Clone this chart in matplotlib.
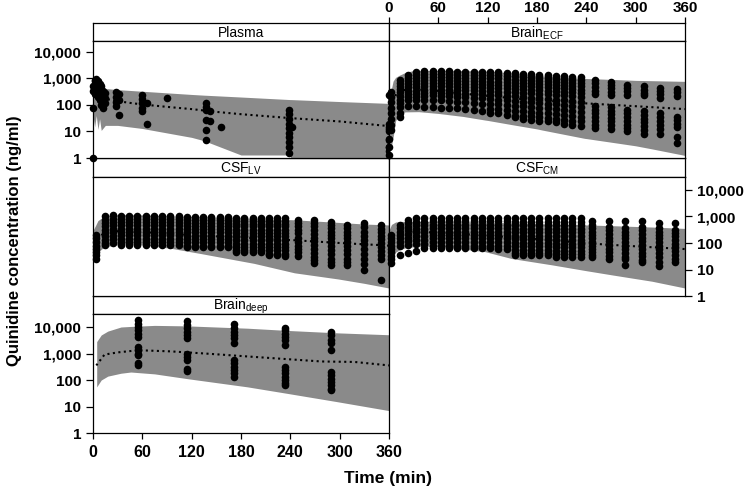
import numpy as np
import matplotlib
matplotlib.use("Agg")
import matplotlib.pyplot as plt
from matplotlib.ticker import FixedLocator, FuncFormatter, LogLocator, NullFormatter, NullLocator

plt.rcParams['font.family'] = ['Liberation Sans', 'DejaVu Sans']

#%% Plasma
plasma_band_t = [0, 2, 4, 6, 8, 10, 15, 30, 60, 120, 135, 180, 240, 241, 300, 360]
plasma_lo = [40, 15, 40, 12, 30, 11, 17, 17, 13, 6, 4.5, 1.3, 1.3, 0.5, 0.5, 0.5]
plasma_hi = [500, 480, 470, 460, 450, 440, 420, 380, 330, 250, 235, 200, 160, 160, 135, 115]
plasma_med_t = [0, 5, 10, 20, 30, 45, 60, 90, 120, 150, 180, 240, 300, 360]
plasma_med = [300, 230, 190, 160, 140, 120, 105, 85, 70, 55, 45, 32, 24, 16]
plasma_obs_t = [0, 2, 4, 6, 8, 10, 12, 14, 28, 32, 60, 66, 90, 138, 142, 156, 238, 242, 360]
plasma_obs_c = [
    [1, 80, 350, 500],
    [250, 400, 600, 800, 900],
    [300, 450, 700, 950],
    [200, 350, 550, 800],
    [150, 250, 400, 600],
    [100, 180, 300, 500],
    [75, 130, 200, 350],
    [120, 180, 280],
    [300, 200, 130, 90],
    [250, 160, 42],
    [240, 165, 115, 75, 58],
    [115, 20],
    [180],
    [115, 87, 65, 27, 11.4, 4.8],
    [57, 24],
    [15],
    [65, 45, 30, 20, 13, 9, 6, 4, 2.5, 1.6],
    [15],
    [240, 15, 10, 4.8, 2.5, 1.8],
]

#%% Brain ECF
ecf_hi_t = [0, 2, 5, 8, 12, 20, 30, 60, 90, 120, 150, 180, 240, 300, 360]
ecf_hi = [100, 300, 800, 1100, 1300, 1700, 2000, 2000, 2000, 1900, 1600, 1300, 1000, 850, 780]
ecf_lo_t = [0, 2, 5, 8, 12, 20, 36, 60, 90, 117, 150, 186, 238, 279, 320, 360]
ecf_lo = [1, 2, 6, 25, 48, 55, 56, 48, 37, 27, 18, 11.4, 5.5, 3.6, 2.2, 1.25]
ecf_med_t = [0, 5, 10, 20, 30, 60, 90, 120, 150, 180, 240, 300, 360]
ecf_med = [5, 150, 300, 380, 400, 340, 270, 220, 180, 150, 115, 90, 70]
ecf_obs_t = [0, 3, 13, 23, 33, 43, 53, 63, 73, 83, 93, 103, 113, 123, 133, 143, 153,
             163, 173, 183, 193, 203, 213, 223, 233, 250, 270, 290, 310, 330, 350]
ecf_obs_c = [
    [1.3, 2.5, 5, 12, 20],
    [11, 18, 30, 50, 80, 130, 200, 300],
    [36, 50, 85, 115, 160, 220, 300, 400, 520, 700, 900],
    [1300, 1000, 780, 600, 460, 350, 270, 200, 150, 95],
    [1700, 1300, 1000, 780, 600, 460, 350, 270, 200, 150, 90],
    [1900, 1450, 1100, 850, 650, 500, 380, 290, 220, 150, 85],
    [1950, 1500, 1150, 880, 680, 520, 400, 300, 230, 150, 85],
    [1900, 1450, 1100, 850, 650, 500, 380, 290, 220, 150, 80],
    [1900, 1450, 1100, 850, 650, 500, 380, 290, 210, 140, 80],
    [1800, 1400, 1050, 800, 620, 480, 360, 270, 200, 130, 75],
    [1800, 1400, 1050, 800, 620, 480, 360, 270, 200, 130, 70],
    [1800, 1400, 1050, 800, 620, 480, 360, 260, 190, 120, 65],
    [1750, 1350, 1000, 780, 600, 460, 350, 250, 180, 110, 60],
    [1700, 1300, 1000, 760, 580, 440, 330, 240, 170, 110, 70, 50],
    [1700, 1300, 1000, 750, 570, 430, 320, 230, 160, 110, 70, 48],
    [1600, 1250, 950, 720, 550, 420, 310, 220, 150, 100, 65, 42],
    [1550, 1200, 900, 700, 530, 400, 300, 210, 140, 95, 60, 40, 35],
    [1500, 1150, 880, 680, 520, 390, 290, 200, 130, 90, 60, 40, 30],
    [1450, 1100, 850, 650, 500, 380, 280, 190, 125, 85, 55, 38, 28],
    [1400, 1050, 820, 620, 480, 360, 270, 180, 120, 80, 52, 35, 25],
    [1300, 1000, 780, 600, 460, 350, 260, 170, 110, 75, 50, 33, 24],
    [1250, 950, 750, 580, 440, 330, 240, 160, 105, 70, 45, 30, 22],
    [1200, 920, 720, 560, 420, 320, 230, 150, 100, 65, 42, 28, 20],
    [1150, 900, 700, 540, 400, 300, 220, 140, 95, 60, 40, 26, 18],
    [1100, 850, 660, 500, 380, 280, 200, 130, 85, 55, 36, 24, 16],
    [850, 650, 480, 350, 250, 90, 65, 48, 35, 25, 18, 13],
    [750, 560, 420, 320, 240, 85, 62, 45, 33, 24, 17, 12],
    [580, 440, 330, 240, 65, 48, 35, 25, 18, 13, 10],
    [500, 380, 290, 230, 58, 42, 30, 22, 16, 11, 8],
    [430, 330, 250, 180, 48, 35, 25, 18, 12, 8],
    [400, 300, 220, 36, 27, 20, 15, 6.4, 3.6],
]

#%% CSF LV
lv_band_t = [0, 3, 6, 12, 18, 34, 60, 95, 131, 196, 245, 298, 330, 360]
lv_lo = [20, 30, 45, 65, 75, 90, 85, 63, 40, 17, 7.5, 4.4, 3, 2]
lv_hi = [300, 450, 700, 950, 1100, 1200, 1150, 1050, 980, 850, 750, 600, 520, 480]
lv_med_t = [0, 5, 15, 30, 60, 120, 180, 240, 300, 360]
lv_med = [60, 150, 250, 280, 260, 200, 160, 130, 100, 80]
lv_obs_t = [4, 14, 24, 34, 44, 54, 64, 74, 84, 94, 104, 114, 124, 134, 144, 154, 164,
            174, 184, 194, 204, 214, 224, 234, 249, 269, 289, 309, 330, 350]
lv_obs_c = [
    [200, 150, 110, 80, 60, 45, 35, 26],
    [1000, 750, 560, 420, 320, 240, 180, 130, 100, 84],
    [1100, 820, 620, 470, 350, 260, 190, 140, 100],
    [1000, 780, 600, 460, 350, 260, 200, 140, 110, 85],
    [1000, 780, 600, 460, 350, 260, 200, 140, 110, 85],
    [1000, 780, 600, 460, 350, 260, 200, 140, 110, 85],
    [1000, 780, 600, 460, 350, 260, 200, 140, 110, 85],
    [1000, 780, 600, 460, 350, 260, 200, 140, 110, 85],
    [1000, 780, 600, 460, 350, 260, 200, 140, 110, 85],
    [1000, 780, 600, 460, 350, 260, 200, 140, 110, 85],
    [1000, 780, 600, 460, 350, 260, 200, 140, 110, 85],
    [950, 740, 570, 440, 340, 250, 190, 140, 105, 80, 70],
    [950, 740, 570, 440, 340, 250, 190, 140, 105, 80, 70],
    [950, 740, 570, 440, 340, 250, 190, 140, 105, 80, 70],
    [950, 740, 570, 440, 340, 250, 190, 140, 105, 80, 70],
    [950, 740, 570, 440, 340, 250, 190, 140, 105, 80, 70],
    [950, 740, 570, 440, 340, 250, 190, 140, 105, 80, 70],
    [900, 700, 540, 420, 320, 240, 180, 130, 95, 70, 55, 45],
    [900, 700, 540, 420, 320, 240, 180, 130, 95, 70, 55, 45],
    [900, 700, 540, 420, 320, 240, 180, 130, 95, 70, 55, 45],
    [900, 700, 540, 420, 320, 240, 180, 130, 95, 70, 55, 45],
    [900, 700, 540, 420, 320, 240, 180, 130, 95, 70, 55, 40, 35],
    [900, 700, 540, 420, 320, 240, 180, 130, 95, 70, 55, 40, 35],
    [900, 700, 540, 420, 320, 240, 180, 130, 95, 70, 55, 40, 32],
    [740, 560, 420, 320, 240, 150, 110, 80, 60, 45, 33],
    [740, 560, 420, 300, 220, 160, 115, 85, 60, 42, 30, 22, 17],
    [640, 480, 360, 270, 200, 150, 110, 80, 55, 38, 26, 19, 15],
    [480, 360, 270, 200, 150, 110, 80, 55, 38, 26, 19, 15],
    [560, 400, 270, 180, 130, 90, 60, 40, 25, 16, 10],
    [480, 350, 260, 190, 140, 100, 70, 50, 35, 25, 4],
]

#%% CSF CM
cm_band_t = [0, 3, 8, 15, 25, 40, 60, 117, 149, 198, 240, 272, 320, 360]
cm_lo = [10, 20, 45, 60, 70, 75, 75, 47, 26, 15, 9, 6.2, 3.6, 2]
cm_hi = [300, 500, 620, 650, 650, 650, 650, 620, 580, 520, 480, 450, 400, 355]
cm_med_t = [0, 5, 15, 30, 60, 120, 180, 240, 300, 360]
cm_med = [30, 120, 220, 260, 250, 190, 140, 97, 75, 59]
cm_obs_t = [3, 13, 23, 33, 43, 53, 63, 73, 83, 93, 103, 113, 123, 133, 143, 153, 163,
            173, 183, 193, 203, 213, 223, 233, 247, 268, 287, 308, 328, 348]
cm_obs_c = [
    [200, 150, 110, 80, 60, 45, 33, 24, 17],
    [480, 360, 270, 200, 150, 110, 80, 35],
    [740, 550, 400, 300, 220, 160, 120, 85, 42],
    [850, 620, 460, 340, 250, 180, 130, 90, 48],
    [850, 620, 460, 340, 250, 180, 130, 90, 63],
    [880, 650, 480, 360, 270, 200, 150, 110, 80, 65],
    [880, 650, 480, 360, 270, 200, 150, 110, 80, 65],
    [880, 650, 480, 360, 270, 200, 150, 110, 80, 65],
    [880, 650, 480, 360, 270, 200, 150, 110, 80, 65],
    [880, 650, 480, 360, 270, 200, 150, 110, 80, 65],
    [880, 650, 480, 360, 270, 200, 150, 110, 80, 65],
    [880, 650, 480, 360, 270, 200, 150, 110, 80, 65],
    [880, 650, 480, 360, 270, 200, 150, 110, 80, 65],
    [880, 650, 480, 360, 270, 200, 150, 110, 80, 60],
    [880, 650, 480, 360, 270, 200, 150, 110, 80, 58],
    [870, 640, 470, 350, 260, 190, 140, 100, 75, 55, 42, 35],
    [870, 640, 470, 350, 260, 190, 140, 100, 75, 55, 42, 35],
    [870, 640, 470, 350, 260, 190, 140, 100, 75, 55, 42, 35],
    [870, 640, 470, 350, 260, 190, 140, 100, 75, 55, 42, 35],
    [870, 640, 470, 350, 260, 190, 140, 100, 75, 55, 42, 35],
    [850, 620, 460, 340, 250, 180, 130, 95, 70, 50, 38, 30],
    [850, 620, 460, 340, 250, 180, 130, 95, 70, 50, 38, 30],
    [850, 620, 460, 340, 250, 180, 130, 95, 70, 50, 38, 30],
    [850, 620, 460, 340, 250, 180, 130, 95, 70, 50, 38, 30],
    [700, 480, 360, 270, 200, 150, 110, 80, 60, 45, 34, 30],
    [700, 400, 300, 220, 160, 120, 85, 62, 45, 33, 25],
    [700, 360, 270, 200, 150, 110, 80, 58, 42, 30, 25, 15],
    [700, 400, 300, 220, 160, 115, 85, 60, 43, 31, 22, 19],
    [560, 360, 270, 200, 150, 110, 80, 58, 42, 30, 20, 13],
    [560, 320, 240, 180, 130, 95, 70, 50, 36, 26, 20],
]

#%% Brain deep
deep_band_t = [4.5, 10, 18, 34, 46, 75, 115, 188, 237, 298, 360]
deep_lo = [55, 100, 140, 180, 200, 170, 112, 55, 31, 15, 7]
deep_hi = [2800, 5000, 7000, 10000, 10500, 11500, 11000, 9000, 7400, 6000, 5100]
deep_med_t = [4, 14, 30, 55, 95, 136, 197, 278, 318, 360]
deep_med = [355, 910, 1100, 1330, 1200, 1000, 740, 500, 480, 355]
deep_obs_t = [55, 114, 172, 233, 289]
deep_obs_c = [
    [17800, 13400, 10000, 7500, 5600, 4200, 1800, 1300, 1000, 850, 420, 360],
    [16500, 12000, 8900, 6700, 5000, 3700, 1000, 750, 560, 270, 220],
    [12500, 9500, 6700, 5000, 3700, 2400, 560, 420, 320, 240, 180, 130],
    [9500, 7500, 5600, 4200, 3200, 2100, 320, 240, 180, 130, 100, 75, 65],
    [6700, 5000, 3200, 2400, 1300, 200, 150, 110, 85, 63, 47, 41],
]

time_ticks = [0, 60, 120, 180, 240, 300, 360]
conc_ticks = [1, 10, 100, 1000, 10000]

#%% figure
W, H = 750, 490
DEC = 26.5  # pixels per decade
fig = plt.figure(figsize=(7.5, 4.9), dpi=100)

def fr(x0, y0, x1, y1):
    return [x0 / W, 1 - y1 / H, (x1 - x0) / W, (y1 - y0) / H]

cols = [(93, 389), (389, 685)]
rows = [(23, 41, 158), (158, 177, 296), (296, 314, 433)]

grey = "#8a8a8a"

def header(col, row, label):
    x0, x1 = cols[col]
    y0, y1, _ = rows[row]
    hx = fig.add_axes(fr(x0, y0, x1, y1))
    hx.set_xlim(0, 360)
    hx.set_xticks([])
    hx.set_yticks([])
    for s in hx.spines.values():
        s.set_linewidth(0.9)
    hx.text(0.5, 0.45, label, ha="center", va="center", fontsize=10, transform=hx.transAxes)
    return hx

def panel(col, row, band_t, lo, hi, med_t, med, obs_t, obs_c, lo_t=None):
    x0, x1 = cols[col]
    _, y0, y1 = rows[row]
    ax = fig.add_axes(fr(x0, y0, x1, y1))
    ax.set_yscale("log")
    ax.set_xlim(0, 360)
    ax.set_ylim(1, 10 ** ((y1 - y0) / DEC))
    if lo_t is None:
        ax.fill_between(band_t, lo, hi, color=grey, lw=0, zorder=1)
    else:
        tt = np.union1d(band_t, lo_t)
        ax.fill_between(tt, np.interp(tt, lo_t, lo), np.interp(tt, band_t, hi),
                        color=grey, lw=0, zorder=1)
    ax.plot(med_t, med, color="k", ls=":", lw=1.5, zorder=2)
    for t, vals in zip(obs_t, obs_c):
        ax.scatter([t] * len(vals), vals, s=30, c="k", linewidths=0, zorder=3, clip_on=False)
    ax.set_xticks([])
    ax.yaxis.set_major_locator(NullLocator())
    ax.yaxis.set_minor_locator(NullLocator())
    for s in ax.spines.values():
        s.set_linewidth(0.9)
    return ax

def log_ticks(ax, side):
    ax.yaxis.set_major_locator(FixedLocator(conc_ticks))
    ax.yaxis.set_major_formatter(FuncFormatter(lambda v, p: "{:,.0f}".format(v)))
    ax.yaxis.set_minor_locator(LogLocator(base=10, subs=np.arange(2, 10)))
    ax.yaxis.set_minor_formatter(NullFormatter())
    if side == "right":
        ax.yaxis.tick_right()
    ax.tick_params(axis="y", which="major", direction="out", length=5, width=0.9, labelsize=11)
    ax.tick_params(axis="y", which="minor", direction="out", length=2.5, width=0.6)
    for lab in ax.get_yticklabels():
        lab.set_fontweight("bold")

header(0, 0, "Plasma")
hx = header(1, 0, r"Brain$_{\mathregular{ECF}}$")
hx.xaxis.tick_top()
hx.set_xticks(time_ticks)
hx.tick_params(axis="x", direction="out", length=4.5, width=0.9, pad=1.5, labelsize=11)
for lab in hx.get_xticklabels():
    lab.set_fontweight("bold")
header(0, 1, r"CSF$_{\mathregular{LV}}$")
header(1, 1, r"CSF$_{\mathregular{CM}}$")
header(0, 2, r"Brain$_{\mathregular{deep}}$")

ax1 = panel(0, 0, plasma_band_t, plasma_lo, plasma_hi, plasma_med_t, plasma_med,
            plasma_obs_t, plasma_obs_c)
log_ticks(ax1, "left")
ax2 = panel(1, 0, ecf_hi_t, ecf_lo, ecf_hi, ecf_med_t, ecf_med, ecf_obs_t, ecf_obs_c,
            lo_t=ecf_lo_t)
ax3 = panel(0, 1, lv_band_t, lv_lo, lv_hi, lv_med_t, lv_med, lv_obs_t, lv_obs_c)
ax4 = panel(1, 1, cm_band_t, cm_lo, cm_hi, cm_med_t, cm_med, cm_obs_t, cm_obs_c)
log_ticks(ax4, "right")
ax5 = panel(0, 2, deep_band_t, deep_lo, deep_hi, deep_med_t, deep_med, deep_obs_t, deep_obs_c)
log_ticks(ax5, "left")
ax5.set_xticks(time_ticks)
ax5.tick_params(axis="x", direction="out", length=4.5, width=0.9, pad=4, labelsize=11.5)
for lab in ax5.get_xticklabels():
    lab.set_fontweight("bold")

fig.text(0.02, 1 - 241 / H, "Quinidine concentration (ng/ml)", rotation=90,
         ha="center", va="center", fontsize=12, fontweight="bold")
fig.text(388 / W, 1 - 478 / H, "Time (min)", ha="center", va="center",
         fontsize=12.5, fontweight="bold")

fig.savefig("out.png", dpi=100)
